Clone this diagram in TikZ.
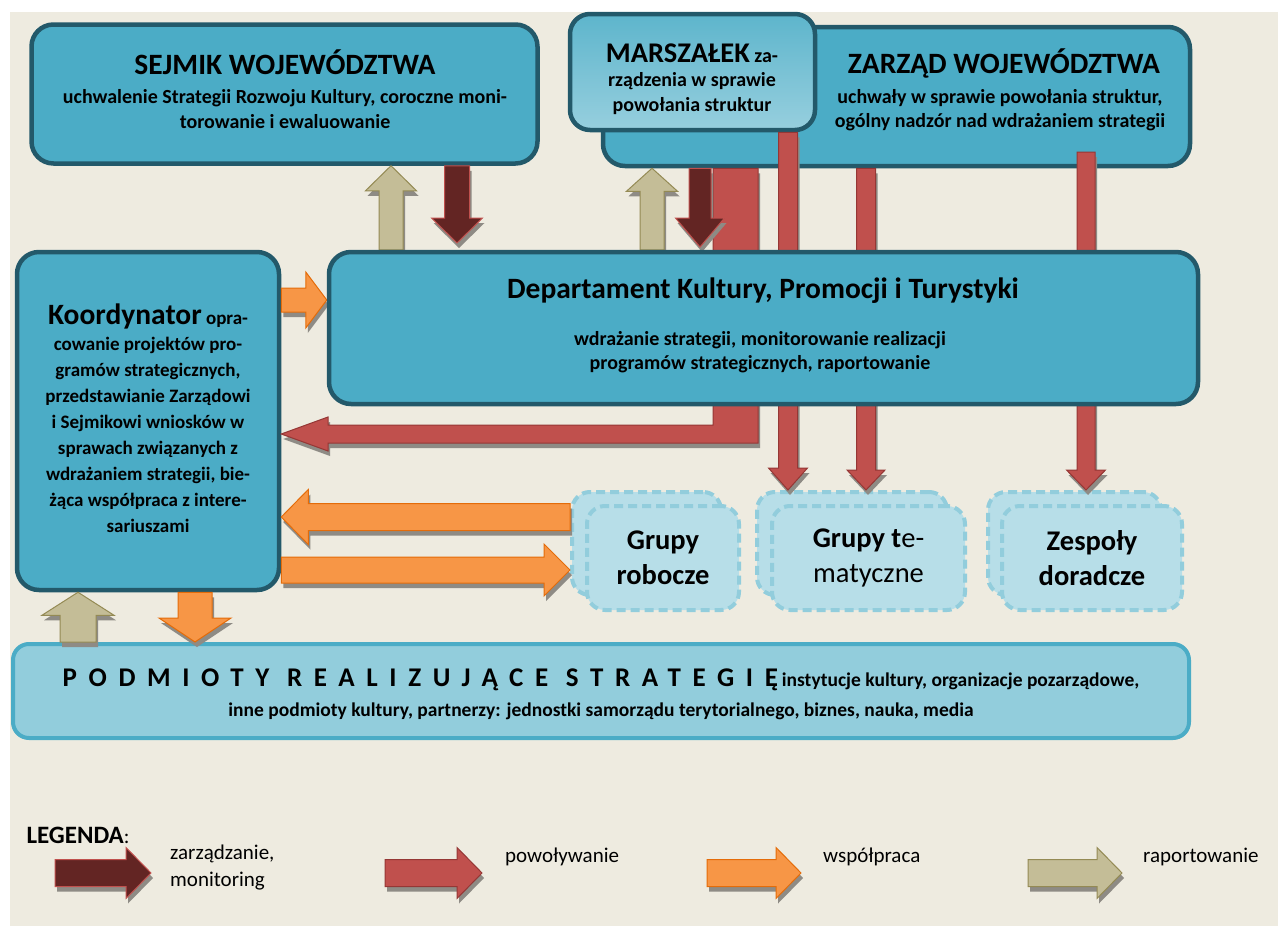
\documentclass[tikz,border=0pt]{standalone}
\usepackage{fontspec}
\setmainfont{Carlito}
\newfontfamily\rozstrzel[LetterSpace=43]{Carlito}
\usepackage{tikz}
\usetikzlibrary{calc,shadows}
\pgfdeclarelayer{wierzch}
\pgfsetlayers{main,wierzch}

\definecolor{tlo}{HTML}{EEEBE0}
\definecolor{ramka}{HTML}{23596A}
\definecolor{niebieski}{HTML}{4BACC6}
\definecolor{marszGora}{HTML}{5DB5CC}
\definecolor{marszDol}{HTML}{97CFDE}
\definecolor{grupaTlo}{HTML}{B7DEE8}
\definecolor{grupaRamka}{HTML}{92CDDC}
\definecolor{podmTlo}{HTML}{92CDDC}
\definecolor{ciemnoczerw}{HTML}{632523}
\definecolor{czerw}{HTML}{C0504D}
\definecolor{czerwRamka}{HTML}{953735}
\definecolor{pomar}{HTML}{F79646}
\definecolor{pomarRamka}{HTML}{E46C0A}
\definecolor{oliwka}{HTML}{C4BD97}
\definecolor{oliwkaRamka}{HTML}{948A54}
\definecolor{cienKolor}{HTML}{8E8B85}

\tikzset{
  blok/.style={draw=ramka,fill=niebieski,line width=4.5pt,rounded corners=22pt},
  grupa/.style={draw=grupaRamka,fill=grupaTlo,line width=4pt,
    dash pattern=on 9pt off 5pt,rounded corners=18pt,align=center,
    font=\fontsize{28.5}{35}\selectfont\bfseries},
  tytul/.style={font=\fontsize{29.5}{32}\selectfont\bfseries},
  opis/.style={font=\fontsize{20}{24.5}\selectfont\bfseries,align=center,inner sep=0pt},
  cieniowana/.style={drop shadow={shadow xshift=2pt,shadow yshift=-5pt,fill=cienKolor,opacity=1}},
  ciemna/.style={fill=ciemnoczerw,draw=czerw,line width=1pt,cieniowana},
  czerwona/.style={fill=czerw,draw=czerwRamka,line width=1pt,cieniowana},
  pomaranczowa/.style={fill=pomar,draw=pomarRamka,line width=1pt,cieniowana},
  oliwkowa/.style={fill=oliwka,draw=oliwkaRamka,line width=1pt,cieniowana},
  legenda/.style={font=\fontsize{21}{27}\selectfont,align=left,inner sep=0pt}
}

% strzalka pionowa: [styl]{x}{od}{do}{pol trzonu}{pol grotu}{dl. grotu}
\newcommand{\varr}[7][]{%
  \path[#1] let \p1=(#2,0 |- #3), \p2=(#2,0 |- #4),
    \n1={ifthenelse(\y2>\y1,1,-1)} in
    ({\x1-#5pt},\y1) -- ({\x1-#5pt},{\y2-(\n1)*#7pt}) -- ({\x1-#6pt},{\y2-(\n1)*#7pt})
    -- (\x1,\y2) -- ({\x1+#6pt},{\y2-(\n1)*#7pt}) -- ({\x1+#5pt},{\y2-(\n1)*#7pt})
    -- ({\x1+#5pt},\y1) -- cycle;}
% strzalka pozioma: [styl]{y}{od}{do}{pol trzonu}{pol grotu}{dl. grotu}
\newcommand{\harr}[7][]{%
  \path[#1] let \p1=(#3 |- 0,#2), \p2=(#4 |- 0,#2),
    \n1={ifthenelse(\x2>\x1,1,-1)} in
    (\x1,{\y1-#5pt}) -- ({\x2-(\n1)*#7pt},{\y1-#5pt}) -- ({\x2-(\n1)*#7pt},{\y1-#6pt})
    -- (\x2,\y1) -- ({\x2-(\n1)*#7pt},{\y1+#6pt}) -- ({\x2-(\n1)*#7pt},{\y1+#5pt})
    -- (\x1,{\y1+#5pt}) -- cycle;}

\begin{document}
\begin{tikzpicture}[x=1pt,y=-1pt]
  \useasboundingbox (0,0) rectangle (1278,926);
  \fill[white] (0,0) rectangle (1278,926);
  \fill[tlo] (10,12) rectangle (1278,926);

  % Sejmik
  \node[blok,minimum width=506pt,minimum height=139pt] (sejmik) at (284.5,94) {};
  \node[tytul] (sejmikT) at (285,62) {SEJMIK WOJEWÓDZTWA};
  \node[opis] (sejmikO) at (285,109)
    {uchwalenie Strategii Rozwoju Kultury, coroczne moni-\\torowanie i ewaluowanie};

  % Zarzad i Marszalek
  \node[blok,minimum width=587pt,minimum height=139pt] (zarzad) at (896.5,96.5) {};
  \node[tytul] (zarzadT) at (1004,63) {ZARZĄD WOJEWÓDZTWA};
  \node[opis] (zarzadO) at (1000,110)
    {uchwały w sprawie powołania struktur,\\ogólny nadzór nad wdrażaniem strategii};
  \node[blok,rounded corners=20pt,top color=marszGora,bottom color=marszDol,
    minimum width=245pt,minimum height=116pt] (marszalek) at (692.5,72) {};
  \node[opis] (marszalekT) at (692,79)
    {{\fontsize{28.5}{30}\selectfont MARSZAŁEK} za-\\rządzenia w sprawie\\powołania struktur};

  % Departament (na wierzchu)
  \begin{pgfonlayer}{wierzch}
    \node[blok,minimum width=869pt,minimum height=152pt] (dept) at (763.5,328) {};
    \node[tytul] (deptT) at (763,291) {Departament Kultury, Promocji i Turystyki};
    \node[opis] (deptO) at (760,352)
      {wdrażanie strategii, monitorowanie realizacji\\programów strategicznych, raportowanie};
  \end{pgfonlayer}

  % Koordynator i podmioty
  \node[blok,minimum width=262pt,minimum height=338pt] (koord) at (148,421) {};
  \node[opis,font=\fontsize{19}{26}\selectfont\bfseries] (koordT) at (148,418)
    {{\fontsize{29.5}{30}\selectfont Koordynator} opra-\\cowanie projektów pro-\\gramów strategicznych,\\
     przedstawianie Zarządowi\\i Sejmikowi wniosków w\\sprawach związanych z\\
     wdrażaniem strategii, bie-\\żąca współpraca z intere-\\sariuszami};
  \node[draw=niebieski,fill=podmTlo,line width=4pt,rounded corners=16pt,
    minimum width=1176pt,minimum height=94pt] (podmioty) at (601,691) {};
  \node[opis,font=\fontsize{19.5}{24.5}\selectfont\bfseries] (podmiotyT) at (601,680)
    {{\rozstrzel\fontsize{27}{28}\selectfont PODMIOTY REALIZUJĄCE STRATEGIĘ}\hspace{4pt}instytucje kultury, organizacje pozarządowe,};
  \node[opis,font=\fontsize{19.5}{24.5}\selectfont\bfseries] (podmiotyO) at (601,711)
    {inne podmioty kultury, partnerzy: jednostki samorządu terytorialnego, biznes, nauka, media};

  % Grupy
  \node[grupa,minimum width=149pt,minimum height=103pt] (robB) at (646.5,543.5) {};
  \node[grupa,minimum width=152pt,minimum height=104pt] (rob) at (663,558) {Grupy\\robocze};
  \node[grupa,minimum width=190pt,minimum height=103pt] (temB) at (852,543.5) {};
  \node[grupa,minimum width=193pt,minimum height=104pt] (tem) at (868.5,558)
    {Grupy t{\mdseries e-}\\{\mdseries matyczne}};
  \node[grupa,minimum width=173pt,minimum height=103pt] (zespB) at (1074.5,543.5) {};
  \node[grupa,minimum width=180pt,minimum height=104pt] (zesp) at (1092,558) {Zespoły\\doradcze};

  % strzalki
  \coordinate (grotS) at (457,243);
  \coordinate (grotZ) at (700,247);
  \coordinate (startZ) at (1086,152);
  \path[czerwona] (713,0 |- zarzad.south) -- (758,0 |- zarzad.south) -- (758,443)
    -- (328,443) -- (328,451) -- (koord.east |- 0,434) -- (328,417) -- (328,425)
    -- (713,425) -- cycle;
  \varr[czerwona]{788}{marszalek.south}{temB.north}{9.5}{19.5}{22}
  \varr[czerwona]{866}{zarzad.south}{temB.north}{9.5}{19}{20}
  \varr[czerwona]{1086}{startZ}{zespB.north}{9}{19.5}{20}
  \varr[oliwkowa]{391}{dept.north}{sejmik.south}{12}{25.5}{25}
  \varr[ciemna]{457}{sejmik.south}{grotS}{12.5}{25.5}{25}
  \varr[oliwkowa]{652}{dept.north}{zarzad.south}{12}{25.5}{23}
  \varr[ciemna]{700}{zarzad.south}{grotZ}{11}{24.5}{29}
  \harr[pomaranczowa]{300}{koord.east}{dept.west}{12}{28}{21}
  \harr[pomaranczowa]{517}{robB.west}{koord.east}{13.5}{27.5}{27}
  \harr[pomaranczowa]{570}{koord.east}{robB.west}{13}{26}{26}
  \varr[oliwkowa]{78}{podmioty.north}{koord.south}{18}{36}{23}
  \varr[pomaranczowa]{195}{koord.south}{podmioty.north}{17}{36}{24}

  % Legenda
  \node[anchor=west,font=\fontsize{21}{22}\selectfont] (legendaT) at (23,835)
    {{\fontsize{25}{26}\selectfont\bfseries LEGENDA}:};
  \coordinate (leg1a) at (55,0);   \coordinate (leg1b) at (151,0);
  \coordinate (leg2a) at (385,0);  \coordinate (leg2b) at (482,0);
  \coordinate (leg3a) at (707,0);  \coordinate (leg3b) at (801,0);
  \coordinate (leg4a) at (1028,0); \coordinate (leg4b) at (1122,0);
  \harr[ciemna]{873}{leg1a}{leg1b}{13.5}{25.5}{25}
  \harr[czerwona]{873}{leg2a}{leg2b}{13.5}{25.5}{25}
  \harr[pomaranczowa]{873}{leg3a}{leg3b}{13.5}{25.5}{25}
  \harr[oliwkowa]{873}{leg4a}{leg4b}{13.5}{25.5}{25}
  \node[legenda,anchor=north west] (leg1) at (170,845) {zarządzanie,\\monitoring};
  \node[legenda,anchor=west] (leg2) at (505,857) {powoływanie};
  \node[legenda,anchor=west] (leg3) at (823,857) {współpraca};
  \node[legenda,anchor=west] (leg4) at (1143,857) {raportowanie};
\end{tikzpicture}
\end{document}
